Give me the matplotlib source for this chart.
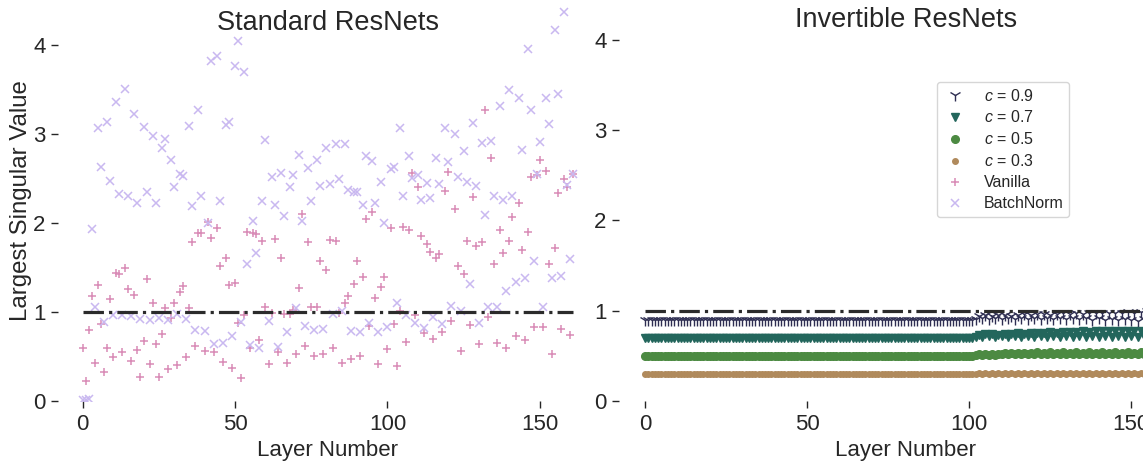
import matplotlib
matplotlib.use("Agg")
import matplotlib.pyplot as plt
import numpy as np
import seaborn as sns

# largest singular value per layer
vanilla = [
    0.59, 0.23, 0.80, 1.18, 0.43, 1.30, 0.86, 0.33, 0.59, 1.14, 0.49, 1.44, 1.42, 0.55, 1.49, 1.26, 0.45, 1.19,
    0.57, 0.27, 0.67, 1.37, 0.41, 1.10, 0.64, 0.27, 0.75, 1.04, 0.36, 0.93, 1.10, 0.40, 1.22, 1.29, 0.49, 1.04,
    1.78, 0.62, 1.89, 1.89, 0.56, 2.01, 1.83, 0.55, 1.94, 1.51, 0.44, 1.61, 1.30, 0.37, 1.32, 0.87, 0.26, 0.96,
    1.90, 0.59, 1.89, 1.87, 0.69, 1.80, 1.05, 0.41, 0.99, 1.82, 0.55, 1.60, 0.98, 0.43, 0.98, 1.02, 0.53, 1.27,
    2.10, 0.62, 1.78, 1.05, 0.50, 1.06, 1.57, 0.53, 1.47, 1.81, 0.59, 1.79, 0.99, 0.43, 1.10, 1.18, 0.47, 1.31,
    1.57, 0.51, 1.39, 2.04, 0.84, 2.12, 1.16, 0.42, 1.28, 1.39, 0.58, 1.94, 0.86, 0.39, 1.01, 1.95, 0.66, 1.92,
    2.56, 0.96, 2.40, 1.85, 0.76, 1.76, 1.67, 0.70, 1.61, 1.65, 0.77, 2.36, 2.57, 0.90, 2.16, 1.51, 0.56, 1.42,
    1.79, 0.85, 2.29, 1.74, 0.64, 1.78, 3.27, 0.94, 2.73, 1.54, 0.65, 1.92, 1.66, 0.59, 1.80, 2.06, 0.73, 2.22,
    1.70, 0.68, 1.90, 2.51, 0.83, 2.54, 2.70, 0.83, 2.58, 1.54, 0.53, 1.72, 2.33, 0.81, 2.49, 2.40, 0.74, 2.55,
]
batchnorm = [
    0.01, 0.01, 0.02, 1.93, 1.06, 3.06, 2.63, 0.89, 3.13, 2.47, 0.96, 3.36, 2.32, 0.96, 3.50, 2.30, 0.95, 3.22,
    2.22, 0.92, 3.07, 2.35, 0.91, 2.97, 2.22, 0.93, 2.84, 2.94, 0.91, 2.71, 2.40, 0.98, 2.55, 2.53, 0.92, 3.09,
    2.19, 0.80, 3.27, 2.30, 0.78, 2.00, 3.81, 0.64, 3.87, 2.24, 0.65, 3.10, 3.13, 0.73, 3.76, 4.04, 0.89, 3.69,
    1.54, 0.63, 2.02, 1.66, 0.60, 2.25, 2.93, 0.90, 2.51, 2.20, 0.61, 2.56, 2.08, 0.77, 2.40, 2.54, 1.04, 2.76,
    2.02, 0.84, 2.61, 2.25, 0.80, 2.71, 2.41, 0.81, 2.84, 2.43, 0.98, 2.88, 2.49, 1.01, 2.88, 2.37, 0.78, 2.35,
    2.35, 0.77, 2.20, 2.75, 0.88, 2.69, 2.22, 0.77, 2.46, 2.00, 0.83, 2.60, 2.63, 1.10, 3.06, 2.30, 0.96, 2.75,
    2.50, 0.87, 2.54, 2.26, 0.82, 2.45, 2.28, 0.94, 2.73, 2.43, 0.86, 3.06, 2.68, 1.07, 3.00, 2.51, 1.01, 2.81,
    2.46, 1.31, 3.12, 2.41, 0.87, 2.89, 2.09, 1.05, 2.92, 2.30, 1.06, 3.31, 2.26, 1.24, 3.49, 2.30, 1.33, 3.40,
    2.82, 1.38, 3.95, 3.27, 1.57, 2.55, 2.91, 1.05, 3.40, 3.11, 1.38, 4.16, 3.45, 1.40, 4.37, 2.42, 1.59, 2.55,
]

c09 = [
    0.90, 0.90, 0.90, 0.90, 0.90, 0.90, 0.90, 0.90, 0.90, 0.90, 0.90, 0.90, 0.90, 0.90, 0.90, 0.90, 0.90, 0.90,
    0.90, 0.90, 0.90, 0.90, 0.90, 0.90, 0.90, 0.90, 0.90, 0.90, 0.90, 0.90, 0.90, 0.90, 0.90, 0.90, 0.90, 0.90,
    0.90, 0.90, 0.90, 0.90, 0.90, 0.90, 0.90, 0.90, 0.90, 0.90, 0.90, 0.90, 0.90, 0.90, 0.90, 0.90, 0.90, 0.90,
    0.90, 0.90, 0.90, 0.90, 0.90, 0.90, 0.90, 0.90, 0.90, 0.90, 0.90, 0.90, 0.90, 0.90, 0.90, 0.90, 0.90, 0.90,
    0.90, 0.90, 0.90, 0.90, 0.90, 0.90, 0.90, 0.90, 0.90, 0.90, 0.90, 0.90, 0.90, 0.90, 0.90, 0.90, 0.90, 0.90,
    0.90, 0.90, 0.90, 0.90, 0.90, 0.90, 0.90, 0.90, 0.90, 0.90, 0.90, 0.90, 0.91, 0.94, 0.92, 0.95, 0.91, 0.94,
    0.92, 0.95, 0.91, 0.95, 0.92, 0.94, 0.91, 0.95, 0.92, 0.96, 0.91, 0.95, 0.92, 0.96, 0.91, 0.96, 0.92, 0.95,
    0.91, 0.96, 0.92, 0.97, 0.91, 0.96, 0.92, 0.97, 0.91, 0.96, 0.92, 0.97, 0.90, 0.97, 0.92, 0.98, 0.90, 0.97,
    0.91, 0.98, 0.90, 0.98, 0.91, 0.99, 0.90, 0.98, 0.89, 0.99, 0.91, 1.00, 0.89, 0.99, 0.90, 1.00, 0.89, 0.99,
]
c07 = [
    0.70, 0.70, 0.70, 0.70, 0.70, 0.70, 0.70, 0.70, 0.70, 0.70, 0.70, 0.70, 0.70, 0.70, 0.70, 0.70, 0.70, 0.70,
    0.70, 0.70, 0.70, 0.70, 0.70, 0.70, 0.70, 0.70, 0.70, 0.70, 0.70, 0.70, 0.70, 0.70, 0.70, 0.70, 0.70, 0.70,
    0.70, 0.70, 0.70, 0.70, 0.70, 0.70, 0.70, 0.70, 0.70, 0.70, 0.70, 0.70, 0.70, 0.70, 0.70, 0.70, 0.70, 0.70,
    0.70, 0.70, 0.70, 0.70, 0.70, 0.70, 0.70, 0.70, 0.70, 0.70, 0.70, 0.70, 0.70, 0.70, 0.70, 0.70, 0.70, 0.70,
    0.70, 0.70, 0.70, 0.70, 0.70, 0.70, 0.70, 0.70, 0.70, 0.70, 0.70, 0.70, 0.70, 0.70, 0.70, 0.70, 0.70, 0.70,
    0.70, 0.70, 0.70, 0.70, 0.70, 0.70, 0.70, 0.70, 0.70, 0.70, 0.70, 0.70, 0.71, 0.73, 0.71, 0.74, 0.72, 0.74,
    0.71, 0.73, 0.72, 0.74, 0.71, 0.74, 0.72, 0.75, 0.71, 0.74, 0.72, 0.75, 0.71, 0.75, 0.72, 0.75, 0.71, 0.76,
    0.72, 0.75, 0.71, 0.76, 0.72, 0.76, 0.71, 0.76, 0.72, 0.77, 0.71, 0.76, 0.72, 0.77, 0.71, 0.77, 0.72, 0.77,
    0.71, 0.78, 0.72, 0.77, 0.71, 0.78, 0.72, 0.78, 0.71, 0.77, 0.72, 0.78, 0.71, 0.78, 0.72, 0.78, 0.71, 0.78,
]
c05 = [
    0.50, 0.50, 0.50, 0.50, 0.50, 0.50, 0.50, 0.50, 0.50, 0.50, 0.50, 0.50, 0.50, 0.50, 0.50, 0.50, 0.50, 0.50,
    0.50, 0.50, 0.50, 0.50, 0.50, 0.50, 0.50, 0.50, 0.50, 0.50, 0.50, 0.50, 0.50, 0.50, 0.50, 0.50, 0.50, 0.50,
    0.50, 0.50, 0.50, 0.50, 0.50, 0.50, 0.50, 0.50, 0.50, 0.50, 0.50, 0.50, 0.50, 0.50, 0.50, 0.50, 0.50, 0.50,
    0.50, 0.50, 0.50, 0.50, 0.50, 0.50, 0.50, 0.50, 0.50, 0.50, 0.50, 0.50, 0.50, 0.50, 0.50, 0.50, 0.50, 0.50,
    0.50, 0.50, 0.50, 0.50, 0.50, 0.50, 0.50, 0.50, 0.50, 0.50, 0.50, 0.50, 0.50, 0.50, 0.50, 0.50, 0.50, 0.50,
    0.50, 0.50, 0.50, 0.50, 0.50, 0.50, 0.50, 0.50, 0.50, 0.50, 0.50, 0.50, 0.51, 0.52, 0.51, 0.52, 0.51, 0.52,
    0.51, 0.52, 0.52, 0.53, 0.52, 0.53, 0.52, 0.53, 0.52, 0.53, 0.52, 0.53, 0.52, 0.54, 0.52, 0.53, 0.52, 0.54,
    0.52, 0.53, 0.52, 0.54, 0.52, 0.53, 0.52, 0.54, 0.52, 0.53, 0.52, 0.54, 0.52, 0.53, 0.52, 0.54, 0.52, 0.53,
    0.52, 0.54, 0.52, 0.53, 0.52, 0.54, 0.52, 0.53, 0.52, 0.54, 0.52, 0.53, 0.52, 0.54, 0.52, 0.53, 0.52, 0.54,
]
c03 = [
    0.30, 0.30, 0.30, 0.30, 0.30, 0.30, 0.30, 0.30, 0.30, 0.30, 0.30, 0.30, 0.30, 0.30, 0.30, 0.30, 0.30, 0.30,
    0.30, 0.30, 0.30, 0.30, 0.30, 0.30, 0.30, 0.30, 0.30, 0.30, 0.30, 0.30, 0.30, 0.30, 0.30, 0.30, 0.30, 0.30,
    0.30, 0.30, 0.30, 0.30, 0.30, 0.30, 0.30, 0.30, 0.30, 0.30, 0.30, 0.30, 0.30, 0.30, 0.30, 0.30, 0.30, 0.30,
    0.30, 0.30, 0.30, 0.30, 0.30, 0.30, 0.30, 0.30, 0.30, 0.30, 0.30, 0.30, 0.30, 0.30, 0.30, 0.30, 0.30, 0.30,
    0.30, 0.30, 0.30, 0.30, 0.30, 0.30, 0.30, 0.30, 0.30, 0.30, 0.30, 0.30, 0.30, 0.30, 0.30, 0.30, 0.30, 0.30,
    0.30, 0.30, 0.30, 0.30, 0.30, 0.30, 0.30, 0.30, 0.30, 0.30, 0.30, 0.30, 0.30, 0.31, 0.30, 0.31, 0.30, 0.31,
    0.30, 0.31, 0.30, 0.31, 0.30, 0.31, 0.30, 0.31, 0.30, 0.31, 0.30, 0.31, 0.30, 0.31, 0.30, 0.31, 0.30, 0.31,
    0.30, 0.31, 0.30, 0.31, 0.30, 0.31, 0.30, 0.31, 0.30, 0.31, 0.30, 0.31, 0.30, 0.31, 0.30, 0.31, 0.30, 0.31,
    0.30, 0.31, 0.30, 0.31, 0.30, 0.31, 0.30, 0.31, 0.30, 0.31, 0.30, 0.31, 0.30, 0.31, 0.30, 0.31, 0.30, 0.31,
]

# colours (a cubehelix-like ramp)
col_c09 = "#2e2e52"
col_c07 = "#23665c"
col_c05 = "#4c8a42"
col_c03 = "#b08a5c"
col_vanilla = "#d98bb6"
col_bn = "#c9b8f0"

invertible = [(c09, "$c$ = 0.9", "1", 9, col_c09), (c07, "$c$ = 0.7", "v", 5.5, col_c07),
              (c05, "$c$ = 0.5", "o", 5.5, col_c05), (c03, "$c$ = 0.3", ".", 8, col_c03)]

sns.set_style("ticks")
plt.rcParams["font.family"] = ["Liberation Sans", "DejaVu Sans"]
plt.rcParams["mathtext.fontset"] = "custom"
plt.rcParams["mathtext.it"] = "Liberation Sans:italic"
plt.rcParams["mathtext.rm"] = "Liberation Sans"
text_col = "#262626"

W, H = 1143, 463
fig = plt.figure(figsize=(W / 100, H / 100), dpi=100)
ax1 = fig.add_axes([58 / W, 62 / H, 540 / W, 401 / H])
ax2 = fig.add_axes([619 / W, 62 / H, 574 / W, 401 / H])

layers = np.arange(len(vanilla))

ax1.plot([0, layers[-1]], [1, 1], "-.", color="#2b2b2b", lw=2.3, zorder=3)
ax1.plot(layers, vanilla, "+", color=col_vanilla, ms=6, mew=1.1, label="Vanilla", zorder=2)
ax1.plot(layers, batchnorm, "x", color=col_bn, ms=5.5, mew=1.1, label="BatchNorm", zorder=2)

ax2.plot([0, layers[-1]], [1, 1], "-.", color="#2b2b2b", lw=2.3, zorder=3)
for vals, lab, mk, size, col in invertible:
    ax2.plot(layers, vals, mk, color=col, ms=size, mew=1.0, label=lab, zorder=2)

ax1.set_xlim(-8.05, 169.05)
ax1.set_ylim(0, 4.5)
ax2.set_xlim(-8.05, 169.05)
ax2.set_ylim(0, 401 / 90.3)

for ax in (ax1, ax2):
    for s in ax.spines.values():
        s.set_visible(False)
    ax.set_xticks([0, 50, 100, 150])
    ax.set_yticks([0, 1, 2, 3, 4])
    ax.tick_params(direction="out", length=5, width=1, colors=text_col, labelsize=16, pad=4)
    ax.set_xlabel("Layer Number", fontsize=16, color=text_col, labelpad=4)

ax1.set_ylabel("Largest Singular Value", fontsize=17.3, color=text_col, labelpad=1)
ax1.text(0.5, 0.943, "Standard ResNets", transform=ax1.transAxes, ha="center", va="center",
         fontsize=19.5, color=text_col)
ax2.text(0.5, 0.95, "Invertible ResNets", transform=ax2.transAxes, ha="center", va="center",
         fontsize=19.5, color=text_col)

h2, l2 = ax2.get_legend_handles_labels()
h1, l1 = ax1.get_legend_handles_labels()
ax2.legend(h2 + h1, l2 + l1, loc="upper left", bbox_to_anchor=(937 / W, 1 - 82 / H),
           bbox_transform=fig.transFigure, fontsize=11.5, frameon=True, borderpad=0.35,
           labelspacing=0.37, handlelength=1.6, handletextpad=1.0, borderaxespad=0)

fig.savefig("out.png", dpi=100)
